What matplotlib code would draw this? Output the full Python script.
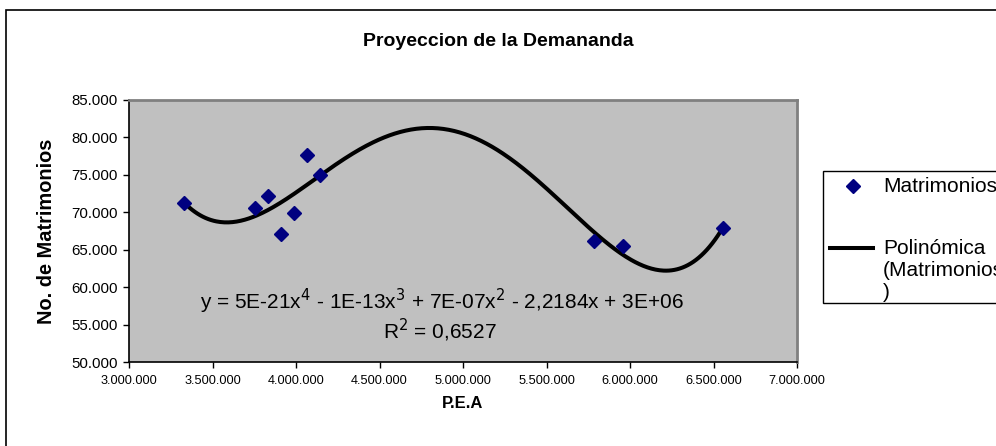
import numpy as np
import matplotlib
matplotlib.use("Agg")
import matplotlib.pyplot as plt
from matplotlib.ticker import FuncFormatter, MultipleLocator
from matplotlib.patches import Rectangle
from matplotlib.lines import Line2D

plt.rcParams['font.family'] = ['Liberation Sans', 'DejaVu Sans']

# Población económicamente activa vs. número de matrimonios
pea = [3329000, 3754000, 3832000, 3909000, 3987000, 4065000, 4142000,
       5785000, 5956000, 6557000]
matrimonios = [71290, 70530, 72130, 67060, 69910, 77650, 74940,
               66170, 65500, 67860]

title = "Proyeccion de la Demananda"
xlabel = "P.E.A"
ylabel = "No. de Matrimonios"
serie = "Matrimonios"
tendencia = "Polinómica\n(Matrimonios\n)"
ecuacion = r"y = 5E-21x$^{4}$ - 1E-13x$^{3}$ + 7E-07x$^{2}$ - 2,2184x + 3E+06"
r2_text = r"R$^{2}$ = 0,6527"

W, H = 996, 446
fig = plt.figure(figsize=(W / 100, H / 100), dpi=100)
fig.patch.set_facecolor('white')

# plot area in pixel coordinates
left, right, top, bottom = 129, 797, 100, 362
ax = fig.add_axes([left / W, 1 - bottom / H, (right - left) / W, (bottom - top) / H])
ax.set_facecolor('#C0C0C0')

x = np.array(pea, dtype=float)
y = np.array(matrimonios, dtype=float)

# polynomial trend line (degree 4)
coef = np.polyfit(x, y, 4)
xs = np.linspace(x.min(), x.max(), 400)
ax.plot(xs, np.polyval(coef, xs), color='black', lw=2.9, zorder=2,
        solid_capstyle='butt')
ax.plot(x, y, linestyle='none', marker='D', markersize=7.6,
        color='#000080', markeredgecolor='#000080', zorder=3)

ax.set_xlim(3000000, 7000000)
ax.set_ylim(50000, 85000)
ax.xaxis.set_major_locator(MultipleLocator(500000))
ax.yaxis.set_major_locator(MultipleLocator(5000))
dot_fmt = FuncFormatter(lambda v, p: f"{int(round(v)):,}".replace(",", "."))
ax.xaxis.set_major_formatter(dot_fmt)
ax.yaxis.set_major_formatter(dot_fmt)
ax.tick_params(axis='x', direction='out', length=4, width=1, color='black',
               labelsize=9.2, pad=5, labelcolor='black')
ax.tick_params(axis='y', direction='out', length=4, width=1, color='black',
               labelsize=10.8, pad=4, labelcolor='black')

for s in ('top', 'right'):
    ax.spines[s].set_color('#808080')
    ax.spines[s].set_linewidth(2)
for s in ('left', 'bottom'):
    ax.spines[s].set_color('black')
    ax.spines[s].set_linewidth(1.2)

ax.set_xlabel(xlabel, fontsize=12, fontweight='bold')
ax.xaxis.set_label_coords(0.5, -(403 - bottom) / (bottom - top), transform=ax.transAxes)
ax.set_ylabel(ylabel, fontsize=14.4, fontweight='bold')
ax.yaxis.set_label_coords(-(left - 46) / (right - left), 0.5, transform=ax.transAxes)
ax.yaxis.label.set_va('center')
ax.xaxis.label.set_va('center')

ax.text(0.468, 0.232, ecuacion, transform=ax.transAxes, ha='center',
        va='center', fontsize=15)
ax.text(0.466, 0.122, r2_text, transform=ax.transAxes, ha='center',
        va='center', fontsize=15)

fig.text(498 / W, 1 - 42 / H, title, ha='center', va='center',
         fontsize=14, fontweight='bold')

# outer chart frame
fig.patches.append(Rectangle((6 / W, -0.1), 1.2, 1 - 10 / H + 0.1,
                             transform=fig.transFigure, fill=False,
                             edgecolor='black', linewidth=1.2))

# legend box
lx0, ly0, ly1 = 823, 171, 303
fig.patches.append(Rectangle((lx0 / W, 1 - ly1 / H), 0.5, (ly1 - ly0) / H,
                             transform=fig.transFigure, facecolor='white',
                             edgecolor='black', linewidth=1))
fig.lines.append(Line2D([853 / W], [1 - 186 / H], transform=fig.transFigure,
                        marker='D', markersize=7.6, color='#000080',
                        linestyle='none'))
fig.lines.append(Line2D([830 / W, 873 / W], [1 - 248 / H, 1 - 248 / H],
                        transform=fig.transFigure, color='black', lw=2.9))
fig.text(883 / W, 1 - 186 / H, serie, ha='left', va='center', fontsize=15)
fig.text(883 / W, 1 - 239 / H, tendencia, ha='left', va='top', fontsize=15,
         linespacing=1.2)

fig.savefig("out.png", dpi=100)
